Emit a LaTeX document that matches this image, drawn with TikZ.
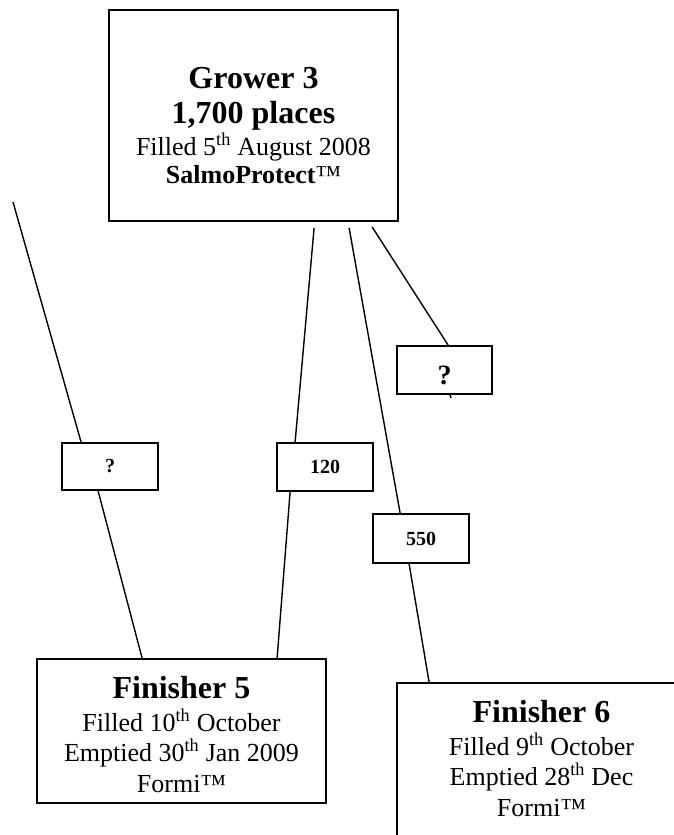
\documentclass[tikz,border=0pt]{standalone}
\usepackage{fontspec}
\setmainfont{Liberation Serif}
\tikzset{
  boxn/.style={draw, line width=1.8pt, rectangle, inner sep=0pt, align=center,
    minimum width=289pt, font=\fontsize{26}{30}\selectfont},
  lbl/.style={draw, line width=1.8pt, rectangle, inner sep=0pt, align=center,
    minimum width=96pt, minimum height=48pt, font=\fontsize{20}{24}\selectfont\bfseries},
  conn/.style={line width=1.4pt},
}
\newcommand{\hdtext}[1]{{\fontsize{32}{34}\selectfont\bfseries #1}}
\begin{document}
\begin{tikzpicture}[x=1pt, y=-1pt]
\useasboundingbox (0,0) rectangle (674,835);

% boxes
\node[boxn, minimum height=211pt] (g) at (253.5,115.5)
  {\rule{0pt}{45pt}\hdtext{Grower 3}\\[5pt]\hdtext{1,700 places}\\[2pt]Filled 5\textsuperscript{th} August 2008\\[-2pt]\textbf{SalmoProtect}™\rule[-5pt]{0pt}{5pt}};

\node[boxn, minimum height=144pt] (f5) at (181.5,731)
  {\rule{0pt}{35pt}\hdtext{Finisher 5}\\[3pt]Filled 10\textsuperscript{th} October\\Emptied 30\textsuperscript{th} Jan 2009\\[1pt]Formi™\rule[-7pt]{0pt}{7pt}};

\node[boxn, minimum height=178pt] (f6) at (541.5,772)
  {\rule{0pt}{35pt}\hdtext{Finisher 6}\\[3pt]Filled 9\textsuperscript{th} October\\Emptied 28\textsuperscript{th} Dec\\[1pt]Formi™\rule[-41pt]{0pt}{41pt}};

\node[lbl, minimum height=47pt] (q1) at (110,466.5) {?};
\node[lbl] (b120) at (325,467) {120};
\node[lbl, minimum height=49pt] (b550) at (421,538.5) {550};
\node[lbl, minimum width=95pt, font=\fontsize{28}{30}\selectfont\bfseries] (q2) at (444.5,370) {\rule{0pt}{30pt}?};

% free ends
\coordinate (c0) at (13,202);
\coordinate (c1) at (451,398);

% connectors
\draw[conn] (c0) -- ([xshift=20pt]q1.north west);
\draw[conn] ([xshift=37pt]q1.south west) -- ([xshift=106pt]f5.north west);
\draw[conn] ([xshift=206pt,yshift=-6pt]g.south west) -- ([xshift=19pt]b120.north west);
\draw[conn] ([xshift=14pt]b120.south west) -- ([xshift=241pt]f5.north west);
\draw[conn] ([xshift=241pt,yshift=-6pt]g.south west) -- ([xshift=28pt]b550.north west);
\draw[conn] ([xshift=37pt]b550.south west) -- ([xshift=33pt]f6.north west);
\draw[conn] ([xshift=264pt,yshift=-5pt]g.south west) -- ([xshift=52pt]q2.north west);
\draw[conn] ([xshift=54pt]q2.south west) -- (c1);
\end{tikzpicture}
\end{document}
